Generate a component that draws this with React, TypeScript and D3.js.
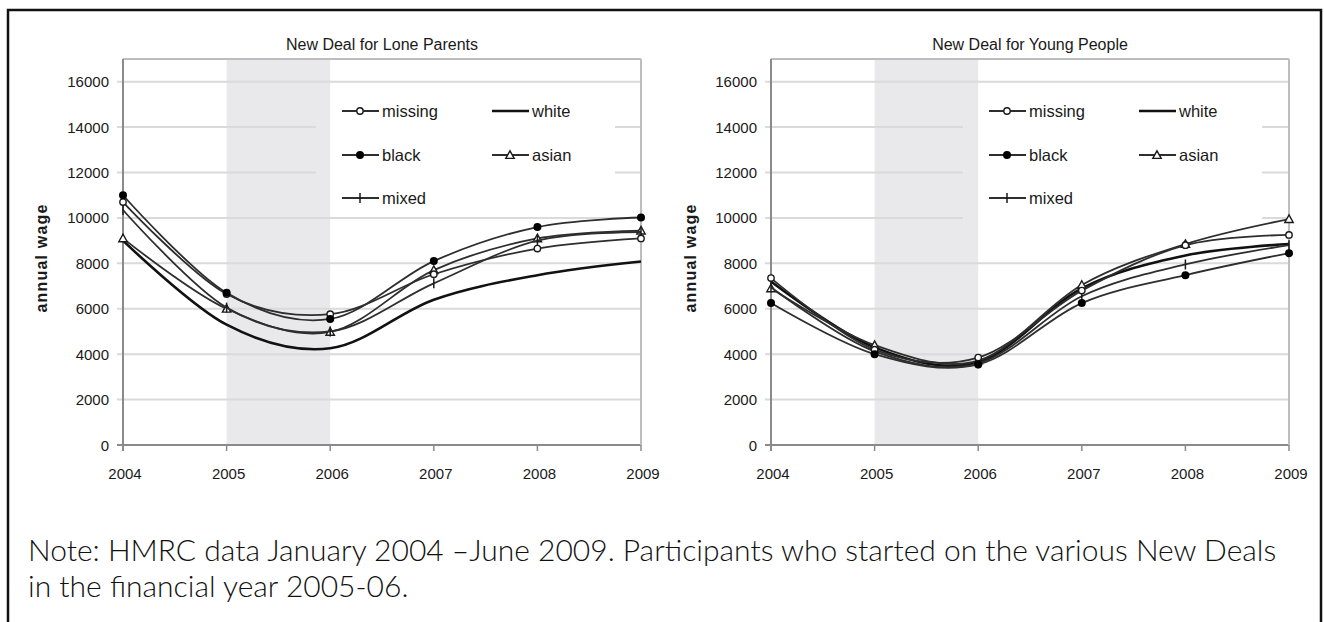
import React from "react";
import * as d3 from "d3";

const years = [2004, 2005, 2006, 2007, 2008, 2009];
const yTicks = [0, 2000, 4000, 6000, 8000, 10000, 12000, 14000, 16000];
const shadeRange = [2005, 2006];

// New Deal for Lone Parents
const lpMissing = [10700, 6650, 5760, 7520, 8650, 9100];
const lpBlack = [11000, 6700, 5550, 8100, 9600, 10020];
const lpMixed = [10350, 6050, 5000, 7120, 9000, 9380];
const lpWhite = [9000, 5300, 4260, 6400, 7480, 8080];
const lpAsian = [9100, 6000, 4980, 7700, 9100, 9440];

// New Deal for Young People
const ypMissing = [7350, 4200, 3850, 6800, 8800, 9250];
const ypBlack = [6250, 4000, 3550, 6250, 7480, 8450];
const ypMixed = [6950, 4120, 3600, 6550, 7950, 8800];
const ypWhite = [7200, 4300, 3650, 6900, 8350, 8850];
const ypAsian = [6900, 4400, 3720, 7050, 8850, 9950];

const legendOrder = [
  ["missing", "white"],
  ["black", "asian"],
  ["mixed"],
];

type Series = { name: string; values: number[] };

const panels = [
  {
    title: "New Deal for Lone Parents",
    series: [
      { name: "white", values: lpWhite },
      { name: "asian", values: lpAsian },
      { name: "mixed", values: lpMixed },
      { name: "missing", values: lpMissing },
      { name: "black", values: lpBlack },
    ] as Series[],
  },
  {
    title: "New Deal for Young People",
    series: [
      { name: "white", values: ypWhite },
      { name: "asian", values: ypAsian },
      { name: "mixed", values: ypMixed },
      { name: "missing", values: ypMissing },
      { name: "black", values: ypBlack },
    ] as Series[],
  },
];

const FONT = "'Liberation Sans', Arial, sans-serif";
const INK = "#1a1a1a";
const SHADE = "#e9e9eb";

function Marker({ name, x, y }: { name: string; x: number; y: number }) {
  if (name === "missing")
    return <circle cx={x} cy={y} r={3.2} fill="#fff" stroke={INK} strokeWidth={1.4} />;
  if (name === "black") return <circle cx={x} cy={y} r={4} fill="#000" />;
  if (name === "asian") {
    const s = 4.2;
    return (
      <path
        d={`M${x},${y - s} L${x + s},${y + s * 0.8} L${x - s},${y + s * 0.8} Z`}
        fill="#fff"
        stroke={INK}
        strokeWidth={1.4}
      />
    );
  }
  if (name === "mixed")
    return <path d={`M${x},${y - 5} V${y + 5}`} stroke={INK} strokeWidth={1.5} />;
  return null;
}

function Panel({
  left,
  right,
  title,
  series,
  labelX,
  legendX0,
  legendX1,
  legendY1,
}: {
  left: number;
  right: number;
  title: string;
  series: Series[];
  labelX: number;
  legendX0: number;
  legendX1: number;
  legendY1: number;
}) {
  const top = 59;
  const bottom = 445;
  const x = d3.scaleLinear().domain([2004, 2009]).range([left, right]);
  const y = d3.scaleLinear().domain([0, 17000]).range([bottom, top]);
  const line = d3
    .line<number>()
    .x((_, i) => x(years[i]))
    .y((d) => y(d))
    .curve(d3.curveCardinal.tension(0));

  const legY0 = 92;
  const legendRowY = [111, 155, 198];
  const legendColX = [legendX0 + 26, legendX0 + 176];

  return (
    <g>
      <text
        x={(left + right) / 2}
        y={50}
        textAnchor="middle"
        fontFamily={FONT}
        fontSize={16}
        fill={INK}
      >
        {title}
      </text>
      {/* shading */}
      <rect
        x={x(shadeRange[0])}
        y={top}
        width={x(shadeRange[1]) - x(shadeRange[0])}
        height={bottom - top}
        fill={SHADE}
      />
      {/* grid */}
      {yTicks.map((t) => (
        <line
          key={t}
          x1={left - 6}
          x2={right}
          y1={y(t)}
          y2={y(t)}
          stroke={t === 0 ? "#8a8a8a" : "#dadada"}
          strokeWidth={2}
        />
      ))}
      {/* legend background */}
      <rect x={legendX0} y={legY0} width={legendX1 - legendX0} height={legendY1 - legY0} fill="#fff" />
      {legendX0 < x(shadeRange[1]) && (
        <rect
          x={Math.max(legendX0, x(shadeRange[0]))}
          y={legY0}
          width={x(shadeRange[1]) - Math.max(legendX0, x(shadeRange[0]))}
          height={legendY1 - legY0}
          fill={SHADE}
        />
      )}
      {/* frame */}
      <line x1={left} x2={right} y1={top} y2={top} stroke="#bdbdbd" strokeWidth={2} />
      <line x1={right} x2={right} y1={top} y2={bottom} stroke="#bdbdbd" strokeWidth={2} />
      <line x1={left} x2={left} y1={top} y2={bottom + 6} stroke="#8a8a8a" strokeWidth={2} />
      {years.map((yr) => (
        <line key={yr} x1={x(yr)} x2={x(yr)} y1={bottom} y2={bottom + 6} stroke="#8a8a8a" strokeWidth={1.5} />
      ))}
      {/* tick labels */}
      {yTicks.map((t) => (
        <text
          key={t}
          x={left - 14}
          y={y(t) + 5.5}
          textAnchor="end"
          fontFamily={FONT}
          fontSize={15}
          fill={INK}
        >
          {t}
        </text>
      ))}
      {years.map((yr) => (
        <text
          key={yr}
          x={x(yr) + 2}
          y={479}
          textAnchor="middle"
          fontFamily={FONT}
          fontSize={15}
          fill={INK}
        >
          {yr}
        </text>
      ))}
      <text
        transform={`translate(${labelX},258) rotate(-90)`}
        textAnchor="middle"
        fontFamily={FONT}
        fontSize={16}
        fontWeight="bold"
        letterSpacing={1.2}
        fill={INK}
      >
        annual wage
      </text>
      {/* series */}
      {series.map((s) => (
        <g key={s.name}>
          <path
            d={line(s.values) || ""}
            fill="none"
            stroke={s.name === "white" ? "#111" : "#2e2e2e"}
            strokeWidth={s.name === "white" ? 2.6 : 1.8}
          />
          {s.values.map((v, i) => (
            <Marker key={i} name={s.name} x={x(years[i])} y={y(v)} />
          ))}
        </g>
      ))}
      {/* legend */}
      {legendOrder.map((row, ri) =>
        row.map((name, ci) => {
          const lx = legendColX[ci];
          const ly = legendRowY[ri];
          return (
            <g key={name}>
              <line
                x1={lx}
                x2={lx + 37}
                y1={ly}
                y2={ly}
                stroke={name === "white" ? "#111" : "#2e2e2e"}
                strokeWidth={name === "white" ? 2.6 : 1.8}
              />
              <Marker name={name} x={lx + 18} y={ly} />
              <text x={lx + 40} y={ly + 6} fontFamily={FONT} fontSize={16.5} fill={INK}>
                {name}
              </text>
            </g>
          );
        })
      )}
    </g>
  );
}

export default function App() {
  return (
    <svg
      width={1324}
      height={622}
      style={{ position: "absolute", left: 0, top: 0, background: "#fff" }}
    >
      <rect x={0} y={0} width={1324} height={622} fill="#fff" />
      <rect x={8} y={10} width={1313} height={640} fill="none" stroke="#111" strokeWidth={2.5} />
      <Panel
        left={123}
        right={641}
        title={panels[0].title}
        series={panels[0].series}
        labelX={47}
        legendX0={316}
        legendX1={615}
        legendY1={210}
      />
      <Panel
        left={771}
        right={1289}
        title={panels[1].title}
        series={panels[1].series}
        labelX={696}
        legendX0={963}
        legendX1={1262}
        legendY1={225}
      />
      <text
        x={28}
        y={561}
        fontFamily="Lato, 'Open Sans', sans-serif"
        fontWeight={300}
        fontSize={30}
        fill="#111"
      >
        Note: HMRC data January 2004 –June 2009. Participants who started on the various New Deals
      </text>
      <text
        x={28}
        y={597}
        fontFamily="Lato, 'Open Sans', sans-serif"
        fontWeight={300}
        fontSize={30}
        fill="#111"
      >
        in the financial year 2005-06.
      </text>
    </svg>
  );
}
